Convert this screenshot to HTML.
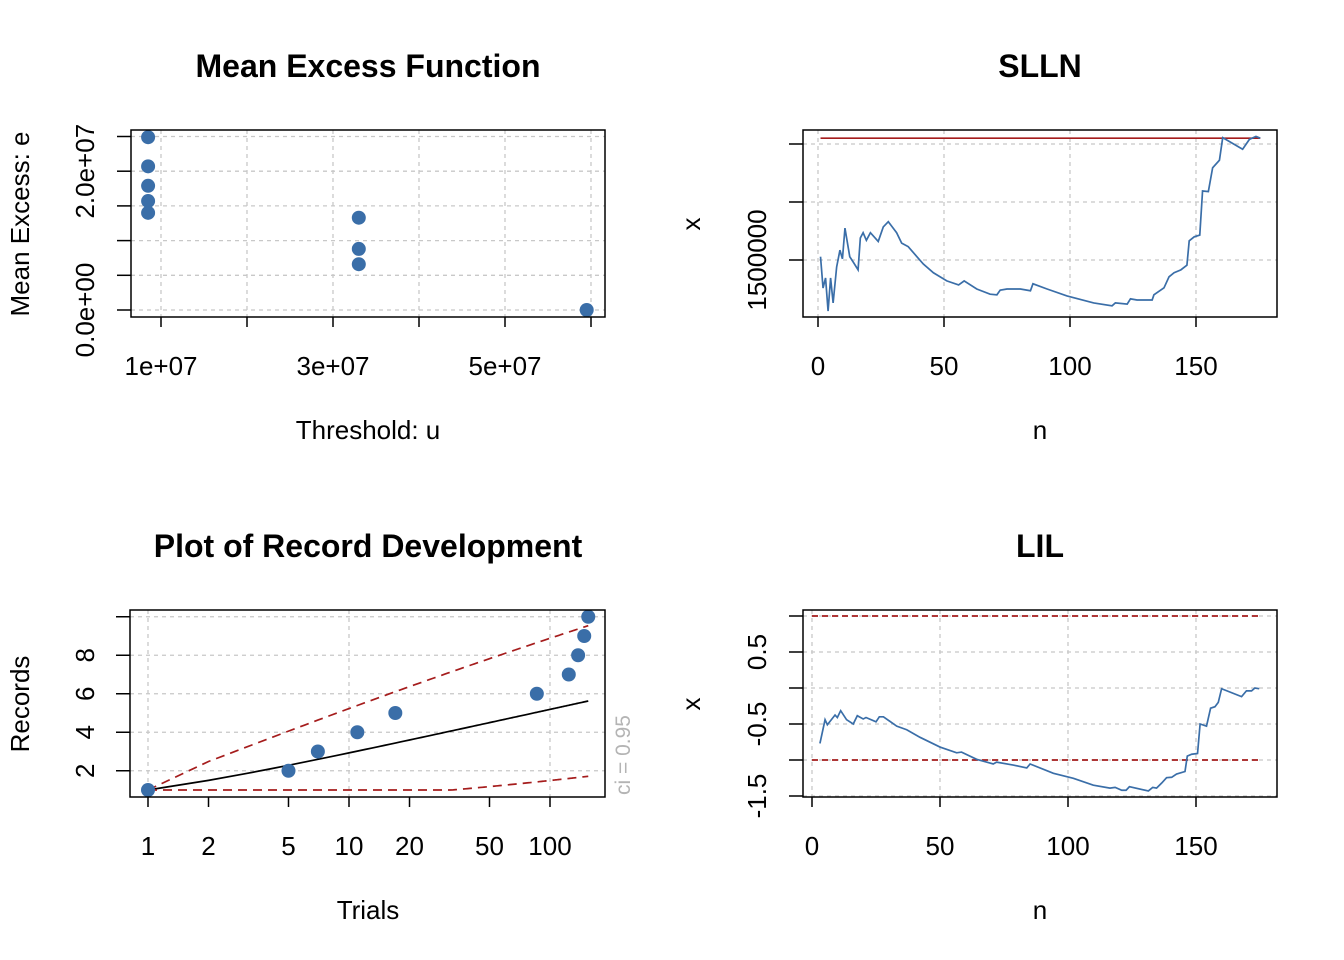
<!DOCTYPE html>
<html><head><meta charset="utf-8"><style>
body{margin:0;background:#fff}
svg{display:block;font-family:"Liberation Sans",Arial,sans-serif}
</style></head><body>
<svg id="s" width="1344" height="960" viewBox="0 0 1344 960"></svg>
<script>
// ---- data ----
const meThreshold=[8.5e6,8.5e6,8.5e6,8.5e6,8.5e6,3.30e7,3.30e7,3.30e7,5.95e7];
const meExcess=[24.9e6,20.7e6,17.9e6,15.7e6,14.0e6,13.3e6,8.8e6,6.6e6,0];
const recTrials=[1,5,7,11,17,86,124,138,148,155];
const recValues=[1,2,3,4,5,6,7,8,9,10];
const recN=155;
const sllnN=[1,2,3,4,5,6,7.4,8.7,9.7,10.7,12.6,13.9,15.9,16.8,17.9,19.2,20.8,23.9,25.9,27.9,31.2,33.2,35.8,39.2,41.8,45.8,51.1,55.8,58,63,68.3,71,72.3,75,80.3,84.3,85.3,90.9,98.8,109.4,116.7,118,122.7,124,126.6,132.6,133.3,137.3,139.3,141.3,144,146.4,147.3,149.3,151.5,152.6,154.9,156.6,159.3,160.6,168.5,171.2,173.8,175.5];
const sllnX=[1505700,1451700,1469000,1412000,1469000,1426000,1488000,1517000,1502000,1555000,1505700,1497000,1483000,1538000,1547000,1534000,1547000,1532000,1557000,1566000,1547000,1529000,1523000,1506000,1493000,1478000,1464000,1457000,1464000,1450000,1441000,1440000,1448000,1450000,1450000,1447000,1459000,1450000,1438000,1426000,1421000,1426000,1424000,1433000,1431000,1431000,1440000,1452000,1471000,1478000,1483000,1491000,1533000,1540000,1543000,1619000,1618000,1659000,1672000,1711000,1691000,1708000,1713000,1710000];
const sllnMean=1710000;
const lilN=[3.1,5.1,6,9,9.9,11.2,13.5,16.1,17.7,20,21.1,25,26.3,27.9,33.1,37,42.2,50,56.5,58.4,64.3,70.8,72.1,78.6,83.9,85.2,94.3,102.1,109.9,116.4,118.4,121,122.7,124,131.4,133.1,134.6,136.6,138.5,140.5,142.4,145.7,146.6,148.3,150.6,151.6,154.1,155.7,157.4,158.7,160,167.8,169.7,171.7,173,174.7];
const lilX=[-0.77,-0.44,-0.51,-0.375,-0.41,-0.315,-0.44,-0.5,-0.385,-0.43,-0.41,-0.47,-0.4,-0.4,-0.53,-0.58,-0.685,-0.82,-0.9,-0.89,-0.99,-1.055,-1.03,-1.07,-1.11,-1.055,-1.185,-1.255,-1.35,-1.39,-1.38,-1.42,-1.42,-1.37,-1.43,-1.38,-1.39,-1.32,-1.245,-1.24,-1.195,-1.16,-0.945,-0.92,-0.91,-0.5,-0.53,-0.28,-0.26,-0.2,-0.01,-0.12,-0.04,-0.04,0,-0.01];
const lilBounds=[1,-1];

const S=document.getElementById('s');const NS='http://www.w3.org/2000/svg';
function el(t,a,txt){const e=document.createElementNS(NS,t);for(const k in a)e.setAttribute(k,a[k]);if(txt!==undefined)e.textContent=txt;S.appendChild(e);return e;}
const BLUE='#3a6ea8',RED='#a51c1c',GRID='#c8c8c8';
const TS=32,LS=26;
function txt(x,y,s,size,name,opt){opt=opt||{};const a={x:x,y:y,'font-size':size,'text-anchor':'middle',fill:opt.fill||'#000'};
 if(opt.bold)a['font-weight']='bold';if(opt.rot)a.transform='rotate(-90 '+x+' '+y+')';
 const t=el('text',a,s);return t;}
function ln(x1,y1,x2,y2,st,w,dash,name){const l=el('line',{x1:x1,y1:y1,x2:x2,y2:y2,stroke:st,'stroke-width':w});if(dash)l.setAttribute('stroke-dasharray',dash);
 return l;}
function box(x0,y0,x1,y1,name){const r=el('rect',{x:x0,y:y0,width:x1-x0,height:y1-y0,fill:'none',stroke:'#000','stroke-width':1.5});
 }
function poly(xs,ys,fx,fy,st,w,dash,name){const p=el('polyline',{points:xs.map((v,i)=>fx(v)+','+fy(ys[i])).join(' '),fill:'none',stroke:st,'stroke-width':w});
 if(dash)p.setAttribute('stroke-dasharray',dash);}
function dot(x,y,name){const c=el('circle',{cx:x,cy:y,r:7,fill:BLUE});}

// ---- Panel 1: Mean Excess ----
{const X0=131,X1=605,Y0=130,Y1=317;
 const fx=v=>161+(v-1e7)/1e7*86, fy=v=>310-v/5e6*34.7;
 const xt=[1e7,2e7,3e7,4e7,5e7,6e7], yt=[0,5e6,1e7,1.5e7,2e7,2.5e7];
 xt.forEach(v=>ln(fx(v),Y0,fx(v),Y1,GRID,1.3,'4,4','me-grid-x'));
 yt.forEach(v=>ln(X0,fy(v),X1,fy(v),GRID,1.3,'4,4','me-grid-y'));
 meThreshold.forEach((v,i)=>dot(fx(v),fy(meExcess[i]),'me-point'));
 box(X0,Y0,X1,Y1,'me-plot-box');
 xt.forEach(v=>ln(fx(v),Y1,fx(v),Y1+10,'#000',1.5,null,'me-x-tick'));
 yt.forEach(v=>ln(X0,fy(v),X0-14,fy(v),'#000',1.5,null,'me-y-tick'));
 [[1e7,'1e+07'],[3e7,'3e+07'],[5e7,'5e+07']].forEach(a=>txt(fx(a[0]),375,a[1],LS,'me-x-tick-label'));
 [[0,'0.0e+00'],[2e7,'2.0e+07']].forEach(a=>txt(94,fy(a[0]),a[1],LS,'me-y-tick-label',{rot:1}));
 txt(368,77,'Mean Excess Function',TS,'me-title',{bold:1});
 txt(368,439,'Threshold: u',LS,'me-x-title');
 txt(29,224,'Mean Excess: e',LS,'me-y-title',{rot:1});
}
// ---- Panel 2: SLLN ----
{const X0=803,X1=1277,Y0=130,Y1=317;
 const fx=v=>818+v*2.52, fy=v=>260-(v-1500000)/100000*58;
 const xt=[0,50,100,150], yt=[1500000,1600000,1700000];
 xt.forEach(v=>ln(fx(v),Y0,fx(v),Y1,GRID,1.3,'4,4','slln-grid-x'));
 yt.forEach(v=>ln(X0,fy(v),X1,fy(v),GRID,1.3,'4,4','slln-grid-y'));
 ln(fx(1),fy(sllnMean),fx(175.5),fy(sllnMean),RED,1.7,null,'slln-mean-line');
 poly(sllnN,sllnX,fx,fy,BLUE,1.7,null,'slln-series');
 box(X0,Y0,X1,Y1,'slln-plot-box');
 xt.forEach(v=>{ln(fx(v),Y1,fx(v),Y1+10,'#000',1.5,null,'slln-x-tick');txt(fx(v),375,String(v),LS,'slln-x-tick-label');});
 yt.forEach(v=>ln(X0,fy(v),X0-14,fy(v),'#000',1.5,null,'slln-y-tick'));
 txt(766,260,'1500000',LS,'slln-y-tick-label',{rot:1});
 txt(1040,77,'SLLN',TS,'slln-title',{bold:1});
 txt(1040,439,'n',LS,'slln-x-title');
 txt(700,224,'x',LS,'slln-y-title',{rot:1});
}
// ---- Panel 3: Records ----
{const X0=130,X1=605,Y0=610,Y1=797;
 const fx=v=>148+Math.log10(v)*201, fy=v=>790-(v-1)*19.25;
 const xt=[1,2,5,10,20,50,100], gx=[1,10,100], yt=[2,4,6,8,10];
 gx.forEach(v=>ln(fx(v),Y0,fx(v),Y1,GRID,1.3,'4,4','rec-grid-x'));
 yt.forEach(v=>ln(X0,fy(v),X1,fy(v),GRID,1.3,'4,4','rec-grid-y'));
 const ns=[],mean=[],up=[],lo=[];let h=0,h2=0;
 for(let n=1;n<=recN;n++){h+=1/n;h2+=1/(n*n);const sd=Math.sqrt(h-h2);ns.push(n);mean.push(h);up.push(h+1.96*sd);lo.push(Math.max(1,h-1.96*sd));}
 poly(ns,mean,fx,fy,'#000',1.7,null,'rec-expected-line');
 poly(ns,up,fx,fy,RED,1.7,'9,6','rec-upper-ci');
 poly(ns,lo,fx,fy,RED,1.7,'9,6','rec-lower-ci');
 recTrials.forEach((v,i)=>dot(fx(v),fy(recValues[i]),'rec-point'));
 box(X0,Y0,X1,Y1,'rec-plot-box');
 xt.forEach(v=>{ln(fx(v),Y1,fx(v),Y1+10,'#000',1.5,null,'rec-x-tick');txt(fx(v),855,String(v),LS,'rec-x-tick-label');});
 yt.forEach(v=>ln(X0,fy(v),X0-14,fy(v),'#000',1.5,null,'rec-y-tick'));
 [2,4,6,8].forEach(v=>txt(94,fy(v),String(v),LS,'rec-y-tick-label',{rot:1}));
 txt(368,557,'Plot of Record Development',TS,'rec-title',{bold:1});
 txt(368,919,'Trials',LS,'rec-x-title');
 txt(29,704,'Records',LS,'rec-y-title',{rot:1});
 txt(630,755,'ci = 0.95',21,'rec-ci-label',{rot:1,fill:'#b4b4b4'});
}
// ---- Panel 4: LIL ----
{const X0=803,X1=1277,Y0=610,Y1=797;
 const fx=v=>812+v*2.56, fy=v=>688-v*72;
 const xt=[0,50,100,150], yt=[-1.5,-1,-0.5,0,0.5,1];
 xt.forEach(v=>ln(fx(v),Y0,fx(v),Y1,GRID,1.3,'4,4','lil-grid-x'));
 yt.forEach(v=>ln(X0,fy(v),X1,fy(v),GRID,1.3,'4,4','lil-grid-y'));
 lilBounds.forEach(b=>ln(fx(0),fy(b),fx(175),fy(b),RED,1.7,'6,4','lil-bound-line'));
 poly(lilN,lilX,fx,fy,BLUE,1.7,null,'lil-series');
 box(X0,Y0,X1,Y1,'lil-plot-box');
 xt.forEach(v=>{ln(fx(v),Y1,fx(v),Y1+10,'#000',1.5,null,'lil-x-tick');txt(fx(v),855,String(v),LS,'lil-x-tick-label');});
 yt.forEach(v=>ln(X0,fy(v),X0-14,fy(v),'#000',1.5,null,'lil-y-tick'));
 [[-1.5,'-1.5'],[-0.5,'-0.5'],[0.5,'0.5']].forEach(a=>txt(766,fy(a[0]),a[1],LS,'lil-y-tick-label',{rot:1}));
 txt(1040,557,'LIL',TS,'lil-title',{bold:1});
 txt(1040,919,'n',LS,'lil-x-title');
 txt(700,704,'x',LS,'lil-y-title',{rot:1});
}
</script>
</body></html>
